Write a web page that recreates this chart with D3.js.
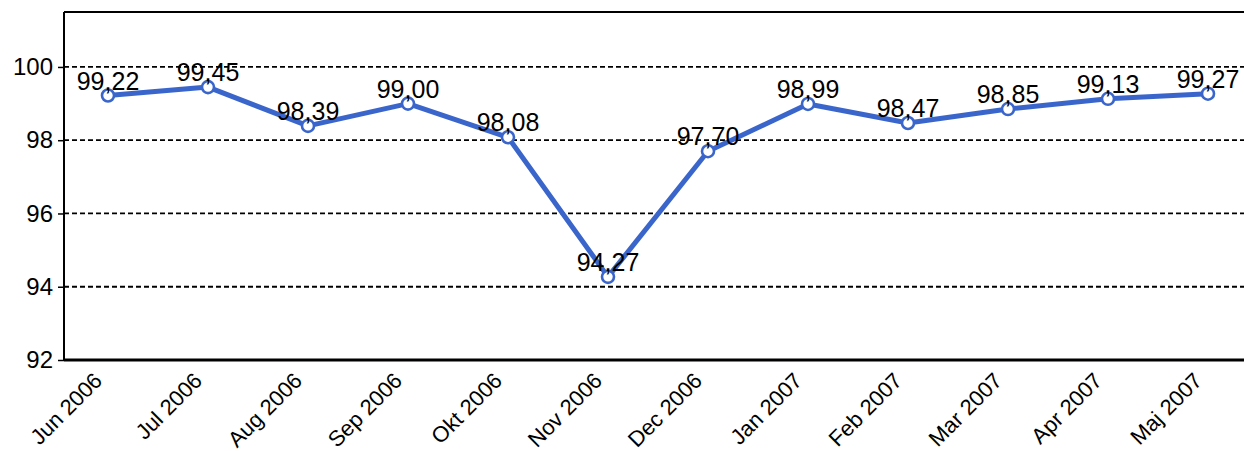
<!DOCTYPE html>
<html><head><meta charset="utf-8">
<script src="https://cdn.jsdelivr.net/npm/d3@7"></script>
<style>body{margin:0;background:#fff}svg{display:block;font-family:"Liberation Sans",Arial,sans-serif}</style>
</head><body><svg id="c" width="1244" height="451"></svg>
<script>
const categories = ["Jun 2006","Jul 2006","Aug 2006","Sep 2006","Okt 2006","Nov 2006","Dec 2006","Jan 2007","Feb 2007","Mar 2007","Apr 2007","Maj 2007"];
const values = [99.22,99.45,98.39,99.00,98.08,94.27,97.70,98.99,98.47,98.85,99.13,99.27];
const yTicks = [92,94,96,98,100];

(function(){
const svg = d3.select("#c");
const pLeft = 64, pRight = 1244, pTop = 12, pBottom = 360;
const FF = "Liberation Sans, Arial, sans-serif";
const x = d3.scalePoint().domain(categories).range([108, 1208]);
const y = d3.scaleLinear().domain([92, 101.5]).range([pBottom, pTop]);

svg.append("g").selectAll("line").data(yTicks.filter(t => t > 92)).join("line")
  .attr("x1", pLeft).attr("x2", pRight).attr("y1", d => y(d)).attr("y2", d => y(d))
  .attr("stroke", "#000").attr("stroke-width", 1.8).attr("stroke-dasharray", "5,3");

svg.append("line").attr("x1", pLeft).attr("x2", pRight).attr("y1", pTop).attr("y2", pTop).attr("stroke","#000").attr("stroke-width",2);
svg.append("line").attr("x1", pLeft).attr("x2", pLeft).attr("y1", pTop).attr("y2", pBottom).attr("stroke","#000").attr("stroke-width",2);

const ya = svg.append("g").attr("transform", `translate(${pLeft},0)`)
  .call(d3.axisLeft(y).tickValues(yTicks).tickSize(6).tickPadding(5).tickFormat(d3.format("d")));
ya.select(".domain").remove();
ya.selectAll("text").attr("font-size", 24).attr("fill", "#000").attr("font-family", FF);
ya.selectAll("line").attr("stroke", "#000").attr("stroke-width", 1.5);

const xa = svg.append("g").attr("transform", `translate(0,${pBottom})`)
  .call(d3.axisBottom(x).tickSize(0).tickPadding(0));
xa.select(".domain").attr("d", `M${pLeft},0H${pRight}`).attr("stroke","#000").attr("stroke-width",3);
xa.selectAll("text").attr("font-size", 22).attr("fill", "#000").attr("font-family", FF)
  .attr("text-anchor", "end").attr("dy", 0).attr("y", 0)
  .attr("transform", "translate(-5,22) rotate(-45)");

const color = "#3a66cc";
svg.append("path").datum(values).attr("fill","none").attr("stroke", color).attr("stroke-width", 5)
  .attr("stroke-linejoin","round")
  .attr("d", d3.line().x((d,i) => x(categories[i])).y(d => y(d)));

svg.append("g").selectAll("circle").data(values).join("circle")
  .attr("cx", (d,i) => x(categories[i])).attr("cy", d => y(d)).attr("r", 6)
  .attr("fill", "#fff").attr("stroke", color).attr("stroke-width", 2.6);

svg.append("g").selectAll("text").data(values).join("text")
  .attr("x", (d,i) => x(categories[i])).attr("y", d => y(d) - 6)
  .attr("text-anchor", "middle").attr("font-size", 25).attr("fill", "#000").attr("font-family", FF)
  .text(d => d3.format(".2f")(d).replace(".", ","));
})();
</script></body></html>
